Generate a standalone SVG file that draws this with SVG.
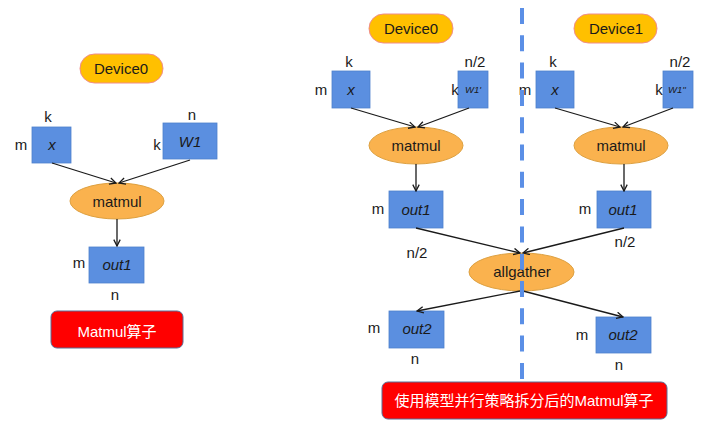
<svg xmlns="http://www.w3.org/2000/svg" width="722" height="445" viewBox="0 0 722 445">
<style>
text{font-family:"Liberation Sans","Noto Sans CJK SC",sans-serif;font-size:15px;fill:#1a1a1a;text-anchor:middle}
.it{font-style:italic}
.sm{font-size:9.5px}
.w{fill:#ffffff}
.dev{fill:#FFC000;stroke:#F08C8C;stroke-width:1}
.box{fill:#5B8FE0;stroke:#4E80CC;stroke-width:0.8}
.op{fill:#FAB24E;stroke:#DDA040;stroke-width:1}
.btn{fill:#FF0000;stroke:#5A6E96;stroke-width:1}
.ln{stroke:#1a1a1a;stroke-width:1.3;fill:none;marker-end:url(#ah)}
.dash{stroke:#5B8FE6;stroke-width:4;stroke-dasharray:16 11.3;fill:none}
</style>
<defs>
<marker id="ah" viewBox="0 0 10 10" refX="9" refY="5" markerWidth="8" markerHeight="8" markerUnits="userSpaceOnUse" orient="auto">
<path d="M1,1 L9,5 L1,9" fill="none" stroke="#1a1a1a" stroke-width="1.6"/>
</marker>
</defs>
<g id="left-device0"><rect class="dev" x="80" y="54" width="83" height="29" rx="14.5"/><text x="121" y="74">Device0</text></g>
<g id="left-x"><rect class="box" x="32" y="127" width="39" height="36"/><text class="it" x="52" y="150">x</text><text x="48" y="122">k</text><text x="21" y="150">m</text></g>
<g id="left-w1"><rect class="box" x="163" y="123" width="54" height="36"/><text class="it" x="190" y="147">W1</text><text x="192" y="120">n</text><text x="157" y="150">k</text></g>
<g id="left-matmul"><ellipse class="op" cx="117" cy="201" rx="47" ry="18"/><text x="117" y="207">matmul</text></g>
<g id="left-out1"><rect class="box" x="89" y="247" width="55" height="36"/><text class="it" x="117" y="270">out1</text><text x="79" y="268">m</text><text x="115" y="300">n</text></g>
<g id="left-label"><rect class="btn" x="51" y="311" width="132" height="37" rx="6"/><text class="w" x="117" y="337">Matmul算子</text></g>

<g id="r-device0"><rect class="dev" x="369" y="14" width="84" height="29" rx="14.5"/><text x="411" y="34">Device0</text></g>
<g id="r0-x"><rect class="box" x="332" y="71" width="38" height="37"/><text class="it" x="351" y="95">x</text><text x="349" y="67">k</text><text x="321" y="95">m</text></g>
<g id="r0-w1"><rect class="box" x="458" y="71" width="30" height="37"/><text class="it sm" x="473" y="93">W1'</text><text x="475" y="67">n/2</text><text x="455" y="95">k</text></g>
<g id="r0-matmul"><ellipse class="op" cx="416" cy="145.5" rx="47" ry="18.5"/><text x="416" y="151">matmul</text></g>
<g id="r0-out1"><rect class="box" x="389" y="191" width="54" height="37"/><text class="it" x="416" y="215">out1</text><text x="378" y="214">m</text><text x="417" y="258">n/2</text></g>

<g id="r-device1"><rect class="dev" x="574" y="14" width="83" height="29" rx="14.5"/><text x="616" y="34">Device1</text></g>
<g id="r1-x"><rect class="box" x="536" y="71" width="38" height="37"/><text class="it" x="555" y="95">x</text><text x="553" y="67">k</text><text x="525" y="95">m</text></g>
<g id="r1-w1"><rect class="box" x="663" y="71" width="30" height="37"/><text class="it sm" x="677" y="93">W1''</text><text x="680" y="67">n/2</text><text x="659" y="95">k</text></g>
<g id="r1-matmul"><ellipse class="op" cx="621" cy="145.5" rx="47" ry="18.5"/><text x="621" y="151">matmul</text></g>
<g id="r1-out1"><rect class="box" x="597" y="191" width="54" height="37"/><text class="it" x="623" y="215">out1</text><text x="585" y="214">m</text><text x="625" y="247">n/2</text></g>

<g id="allgather"><ellipse class="op" cx="521.5" cy="272" rx="52.5" ry="19"/><text x="522" y="277">allgather</text></g>
<g id="r0-out2"><rect class="box" x="389" y="311" width="55" height="37"/><text class="it" x="417" y="334">out2</text><text x="374" y="333">m</text><text x="415" y="364">n</text></g>
<g id="r1-out2"><rect class="box" x="596" y="317" width="55" height="36"/><text class="it" x="623" y="340">out2</text><text x="582" y="340">m</text><text x="619" y="370">n</text></g>
<g id="right-label"><rect class="btn" x="382" y="382" width="285" height="37" rx="6"/><text class="w" x="524" y="406">使用模型并行策略拆分后的Matmul算子</text></g>

<g id="connectors">
<line class="ln" x1="52" y1="163" x2="116" y2="183"/>
<line class="ln" x1="190" y1="160" x2="119" y2="183"/>
<line class="ln" x1="117" y1="219" x2="117" y2="246"/>
<line class="ln" x1="351" y1="108" x2="415" y2="127"/>
<line class="ln" x1="469" y1="108" x2="418" y2="127"/>
<line class="ln" x1="416" y1="164" x2="416" y2="191"/>
<line class="ln" x1="555" y1="108" x2="620" y2="127"/>
<line class="ln" x1="673" y1="108" x2="623" y2="127"/>
<line class="ln" x1="624" y1="164" x2="624" y2="191"/>
<line class="ln" x1="416" y1="228" x2="520" y2="253"/>
<line class="ln" x1="624" y1="228" x2="523" y2="253"/>
<line class="ln" x1="520" y1="291" x2="417" y2="311"/>
<line class="ln" x1="523" y1="291" x2="623" y2="317"/>
</g>
<line id="divider" class="dash" x1="522" y1="8" x2="522" y2="380"/>
</svg>
